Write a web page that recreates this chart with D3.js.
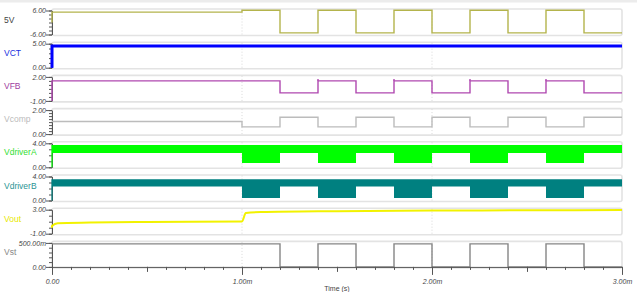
<!DOCTYPE html>
<html>
<head>
<meta charset="utf-8">
<script src="https://cdn.jsdelivr.net/npm/d3@7"></script>
<style>
  body { margin: 0; background: #fff; }
  svg { display: block; font-family: "Liberation Sans", Arial, sans-serif; }
</style>
</head>
<body>
<svg id="chart" width="637" height="292"></svg>
<script>
// signal names, colours and y ranges, top panel first
const names = ["5V", "VCT", "VFB", "Vcomp", "VdriverA", "VdriverB", "Vout", "Vst"];
const colors = ["#b4b44c", "#0000ff", "#b048b0", "#bcbcbc", "#00ff00", "#008080", "#f2f200", "#858585"];
const labelColors = ["#444", "#2030e0", "#a040a0", "#bbbbbb", "#33dd33", "#2a9494", "#e8e800", "#888"];
const yDomains = [[-6, 6], [0, 5], [-1, 2], [0, 2], [0, 4], [0, 4], [-1, 3], [0, 0.5]];
const yTopLabels = ["6.00", "5.00", "2.00", "2.00", "4.00", "4.00", "3.00", "500.00m"];
const yBottomLabels = ["-6.00", "0.00", "-1.00", "0.00", "0.00", "0.00", "-1.00", "0.00"];
const yMinorSteps = [2, 1, 0.5, 0.25, 1, 1, 1, 0.1];

// time axis (ms)
const xTicks = [0, 1, 2, 3];
const xTickLabels = ["0.00", "1.00m", "2.00m", "3.00m"];

// switching segments: start time of each segment (ms), last one runs to 3.0
const segStart = [0, 1.0, 1.2, 1.4, 1.6, 1.8, 2.0, 2.2, 2.4, 2.6, 2.8];
const tEnd = 3.0;
const v5V   = [5.2, 6.1, -5.2, 6.1, -5.2, 6.1, -5.2, 6.1, -5.2, 6.1, -5.2];
const vFB   = [1.5, 1.5, 0.0, 1.5, 0.0, 1.5, 0.0, 1.5, 0.0, 1.5, 0.0];
const vComp = [1.05, 0.6, 1.4, 0.6, 1.4, 0.6, 1.4, 0.6, 1.4, 0.6, 1.4];
const vSt   = [0.48, 0.48, 0, 0.48, 0, 0.48, 0, 0.48, 0, 0.48, 0];
const drvATop = [3.7, 3.7, 3.7, 3.7, 3.7, 3.7, 3.7, 3.7, 3.7, 3.7, 3.7];
const drvALow = [2.4, 0.7, 2.4, 0.7, 2.4, 0.7, 2.4, 0.7, 2.4, 0.7, 2.4];
const drvBTop = [3.55, 3.55, 3.55, 3.55, 3.55, 3.55, 3.55, 3.55, 3.55, 3.55, 3.55];
const drvBLow = [2.35, 0.4, 2.35, 0.4, 2.35, 0.4, 2.35, 0.4, 2.35, 0.4, 2.35];
const vctLevel = 4.5;
const vfbSpikes = [1.4, 1.8, 2.2, 2.6];
const vfbSpikePeak = 1.75;

// Vout: [time ms, volts]
const vOut = [[0, 0.0], [0, 0.3], [0.03, 0.75], [0.2, 0.85], [0.5, 0.95], [1.0, 1.05],
  [1.02, 2.45], [1.1, 2.6], [1.5, 2.75], [2.0, 2.85], [2.5, 2.9], [3.0, 2.95]];

const svg = d3.select("#chart");
const left = 52, right = 622;
const x = d3.scaleLinear().domain([0, 3]).range([left, right]);
const panelTop = i => 10.5 + i * 33.2;
const panelH = 24;

const yScales = yDomains.map((d, i) => d3.scaleLinear().domain(d).range([panelTop(i) + panelH, panelTop(i)]));

// light band at the very top
svg.append("rect").attr("x", 0).attr("y", 0).attr("width", 637).attr("height", 2.5).attr("fill", "#ececec");

function stepPoints(vals, startVal) {
  let pts = segStart.map((t, i) => [t, vals[i]]);
  pts.push([tEnd, vals[vals.length - 1]]);
  if (startVal !== undefined) pts.unshift([0, startVal]);
  return pts;
}

names.forEach((name, i) => {
  const y = yScales[i];
  const top = panelTop(i);
  const g = svg.append("g");

  // panel frame
  g.append("rect")
    .attr("x", left).attr("y", top - 1.5)
    .attr("width", right - left).attr("height", panelH + 2.5)
    .attr("rx", 2)
    .attr("fill", "none").attr("stroke", "#e3e3e3").attr("stroke-width", 1.6);

  // dotted grid at 1ms and 2ms
  g.selectAll("line.grid").data([1, 2]).enter().append("line")
    .attr("x1", d => x(d)).attr("x2", d => x(d))
    .attr("y1", top - 1).attr("y2", top + panelH)
    .attr("stroke", "#d8d8d8").attr("stroke-dasharray", "1,2");

  // y axis with minor ticks
  const [lo, hi] = yDomains[i];
  const minor = d3.range(lo, hi + 1e-9, yMinorSteps[i]);
  g.append("g").attr("transform", `translate(${left},0)`)
    .call(d3.axisLeft(y).tickValues(minor).tickSize(3).tickSizeOuter(0).tickFormat(""))
    .call(a => a.selectAll("path,line").attr("stroke", "#555"));
  g.append("g").attr("transform", `translate(${left},0)`)
    .call(d3.axisLeft(y).tickValues([hi, lo]).tickSize(6).tickSizeOuter(0)
      .tickFormat((d, k) => k === 0 ? yTopLabels[i] : yBottomLabels[i]))
    .call(a => a.select(".domain").remove())
    .call(a => a.selectAll("line").attr("stroke", "#555"))
    .call(a => a.selectAll("text").attr("font-size", 7).attr("font-style", "italic")
      .attr("fill", "#444").attr("x", -6).attr("font-family", "Liberation Sans, Arial, sans-serif"));

  // series name
  g.append("text").attr("x", 4).attr("y", top + 12)
    .attr("font-size", 8.5).attr("fill", labelColors[i]).text(name);
});

const line = (i, curve) => d3.line().x(d => x(d[0])).y(d => yScales[i](d[1])).curve(curve || d3.curveLinear);

// 5V
svg.append("path").datum(stepPoints(v5V, 0)).attr("d", line(0, d3.curveStepAfter))
  .attr("fill", "none").attr("stroke", colors[0]).attr("stroke-width", 1.4);

// VCT
svg.append("path").datum([[0, 0], [0, vctLevel], [tEnd, vctLevel]]).attr("d", line(1))
  .attr("fill", "none").attr("stroke", colors[1]).attr("stroke-width", 3);
svg.append("path").datum([[0, 0], [0, vctLevel]]).attr("d", line(1))
  .attr("fill", "none").attr("stroke", colors[1]).attr("stroke-width", 1.5);

// VFB
svg.append("path").datum(stepPoints(vFB, -1)).attr("d", line(2, d3.curveStepAfter))
  .attr("fill", "none").attr("stroke", colors[2]).attr("stroke-width", 1.4);
svg.selectAll("line.spike").data(vfbSpikes).enter().append("line")
  .attr("x1", d => x(d)).attr("x2", d => x(d))
  .attr("y1", yScales[2](vFB[1])).attr("y2", yScales[2](vfbSpikePeak))
  .attr("stroke", colors[2]).attr("stroke-width", 1.4);

// Vcomp
svg.append("path").datum(stepPoints(vComp)).attr("d", line(3, d3.curveStepAfter))
  .attr("fill", "none").attr("stroke", colors[3]).attr("stroke-width", 1.4);

// driver bands
function band(i, topVals, lowVals) {
  const pts = segStart.map((t, k) => [t, topVals[k], lowVals[k]]);
  pts.push([tEnd, topVals[topVals.length - 1], lowVals[lowVals.length - 1]]);
  const area = d3.area().x(d => x(d[0])).y0(d => yScales[i](d[2])).y1(d => yScales[i](d[1]))
    .curve(d3.curveStepAfter);
  svg.append("path").datum(pts).attr("d", area).attr("fill", colors[i]);
  svg.append("path").datum([[0, 0], [0, topVals[0]]]).attr("d", line(i))
    .attr("fill", "none").attr("stroke", colors[i]).attr("stroke-width", 1.2);
}
band(4, drvATop, drvALow);
band(5, drvBTop, drvBLow);

// Vout
svg.append("path").datum(vOut).attr("d", line(6, d3.curveMonotoneX))
  .attr("fill", "none").attr("stroke", colors[6]).attr("stroke-width", 2);

// Vst
svg.append("path").datum(stepPoints(vSt)).attr("d", line(7, d3.curveStepAfter))
  .attr("fill", "none").attr("stroke", colors[7]).attr("stroke-width", 1.4);

// time axis
const axisY = panelTop(7) + panelH;
const gx = svg.append("g").attr("transform", `translate(0,${axisY})`);
gx.append("g")
  .call(d3.axisBottom(x).tickValues(d3.range(0, 30.5).map(d => d / 10)).tickSize(3).tickSizeOuter(0).tickFormat(""))
  .call(a => a.selectAll("path,line").attr("stroke", "#555"));
gx.append("g")
  .call(d3.axisBottom(x).tickValues([0.5, 1.5, 2.5]).tickSize(5).tickFormat(""))
  .call(a => a.select(".domain").remove())
  .call(a => a.selectAll("line").attr("stroke", "#555"));
gx.append("g")
  .call(d3.axisBottom(x).tickValues(xTicks).tickSize(8).tickFormat((d, k) => xTickLabels[k]))
  .call(a => a.select(".domain").remove())
  .call(a => a.selectAll("line").attr("stroke", "#555"))
  .call(a => a.selectAll("text").attr("font-size", 7).attr("font-style", "italic")
    .attr("fill", "#444").attr("y", 12).attr("font-family", "Liberation Sans, Arial, sans-serif"));

svg.append("text").attr("x", (left + right) / 2).attr("y", 290.5)
  .attr("text-anchor", "middle").attr("font-size", 7).attr("fill", "#444").text("Time (s)");
</script>
</body>
</html>
